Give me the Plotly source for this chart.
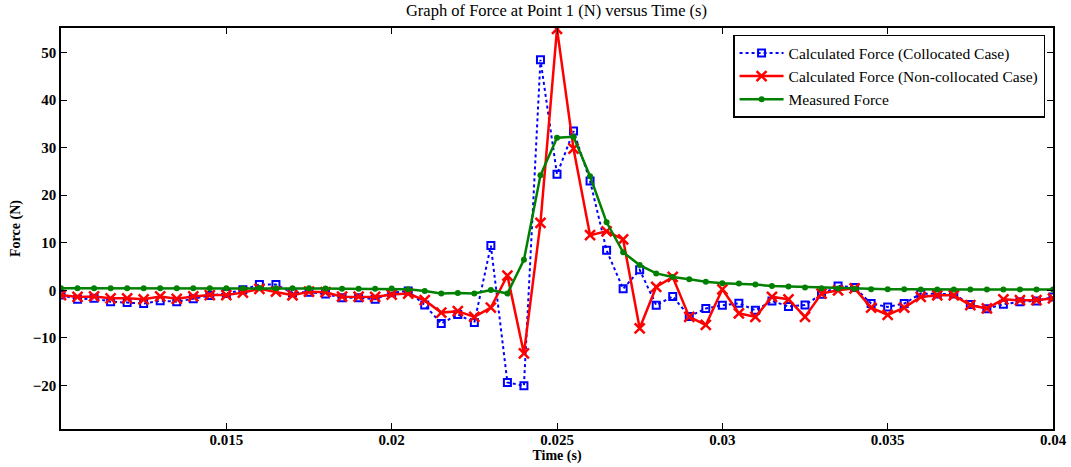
import plotly.graph_objects as go

time_s = [0.0100, 0.0105, 0.0110, 0.0115, 0.0120, 0.0125, 0.0130, 0.0135, 0.0140, 0.0145,
          0.0150, 0.0155, 0.0160, 0.0165, 0.0170, 0.0175, 0.0180, 0.0185, 0.0190, 0.0195,
          0.0200, 0.0205, 0.0210, 0.0215, 0.0220, 0.0225, 0.0230, 0.0235, 0.0240, 0.0245,
          0.0250, 0.0255, 0.0260, 0.0265, 0.0270, 0.0275, 0.0280, 0.0285, 0.0290, 0.0295,
          0.0300, 0.0305, 0.0310, 0.0315, 0.0320, 0.0325, 0.0330, 0.0335, 0.0340, 0.0345,
          0.0350, 0.0355, 0.0360, 0.0365, 0.0370, 0.0375, 0.0380, 0.0385, 0.0390, 0.0395,
          0.0400]

force_collocated = [-1.0, -1.9, -1.7, -2.4, -2.6, -2.8, -2.2, -2.4, -1.8, -1.1,
                    -0.7, 0.1, 1.2, 1.2, -0.5, -0.4, -0.8, -1.55, -1.55, -1.9,
                    -0.5, -0.15, -3.1, -7.0, -5.1, -6.8, 9.4, -19.4, -20.1, 48.5,
                    24.4, 33.5, 23.0, 8.4, 0.3, 4.3, -3.15, -1.3, -5.5, -3.85,
                    -3.15, -2.75, -4.2, -2.25, -3.4, -3.1, -0.85, 0.9, 0.6, -2.8,
                    -3.5, -2.8, -0.7, -0.8, -0.8, -3.0, -3.9, -2.95, -2.4, -2.25,
                    -1.4]

force_noncollocated = [-1.0, -1.4, -1.3, -1.7, -1.7, -1.9, -1.3, -1.8, -1.3, -1.0,
                       -1.0, -0.5, 0.3, -0.3, -1.05, -0.3, -0.4, -1.35, -1.35, -1.4,
                       -0.9, -0.7, -2.1, -4.7, -4.4, -5.6, -3.65, 3.1, -13.3, 14.2,
                       55.0, 29.8, 11.6, 12.4, 10.7, -8.0, 0.7, 2.8, -5.6, -7.3,
                       0.2, -4.85, -5.6, -1.4, -1.9, -5.6, -0.7, 0.0, 0.4, -3.65,
                       -5.2, -3.65, -1.4, -1.05, -1.05, -3.15, -3.8, -1.9, -2.1, -2.1,
                       -1.7]

force_measured = [0.4, 0.4, 0.4, 0.4, 0.4, 0.4, 0.4, 0.4, 0.4, 0.4,
                  0.4, 0.4, 0.5, 0.4, 0.4, 0.4, 0.35, 0.3, 0.3, 0.3,
                  0.35, 0.2, -0.15, -0.7, -0.6, -0.7, 0.05, -0.7, 6.4, 24.2,
                  32.1, 32.3, 24.0, 14.3, 8.0, 5.3, 3.55, 2.8, 2.3, 1.8,
                  1.5, 1.4, 1.2, 0.9, 0.8, 0.6, 0.45, 0.35, 0.3, 0.2,
                  0.2, 0.2, 0.15, 0.15, 0.15, 0.15, 0.15, 0.15, 0.15, 0.15,
                  0.15]

x_tick_vals = [0.015, 0.02, 0.025, 0.03, 0.035, 0.04]
x_tick_text = ["0.015", "0.02", "0.025", "0.03", "0.035", "0.04"]
y_tick_vals = [-20, -10, 0, 10, 20, 30, 40, 50]

FONT = "Liberation Serif, Times New Roman, serif"

fig = go.Figure()
fig.add_trace(go.Scatter(
    x=time_s, y=force_collocated, mode="lines+markers",
    name="Calculated Force (Collocated Case)",
    line=dict(color="#0000ff", width=2, dash="dot"),
    marker=dict(symbol="square-open", size=7, color="#0000ff", line=dict(width=2, color="#0000ff")),
))
fig.add_trace(go.Scatter(
    x=time_s, y=force_noncollocated, mode="lines+markers",
    name="Calculated Force (Non-collocated Case)",
    line=dict(color="#ff0000", width=2.5),
    marker=dict(symbol="x-thin-open", size=10, color="#ff0000", line=dict(width=2.5, color="#ff0000")),
))
fig.add_trace(go.Scatter(
    x=time_s, y=force_measured, mode="lines+markers",
    name="Measured Force",
    line=dict(color="#008000", width=2.5),
    marker=dict(symbol="circle", size=6, color="#008000"),
))

axis_common = dict(
    showline=True, linecolor="black", linewidth=1.5, mirror="ticks",
    ticks="inside", ticklen=6, tickcolor="black", tickwidth=1,
    showgrid=False, zeroline=False, automargin=False,
    tickfont=dict(family=FONT, size=15, color="black", weight="bold"),
)

fig.update_layout(
    width=1071, height=467,
    margin=dict(l=61, r=18, t=28, b=38, autoexpand=False),
    paper_bgcolor="white", plot_bgcolor="white",
    font=dict(family=FONT, color="black"),
    title=dict(text="Graph of Force at Point 1 (N) versus Time (s)",
               x=0.5196, xanchor="center", y=0.979, yanchor="middle",
               font=dict(family=FONT, size=16.5, color="black")),
    xaxis=dict(range=[0.010, 0.040], tickvals=x_tick_vals, ticktext=x_tick_text,
               ticklabelstandoff=-4,
               title=dict(text="Time (s)", standoff=2,
                          font=dict(family=FONT, size=14, color="black", weight="bold")),
               **axis_common),
    yaxis=dict(range=[-29.2, 55.2], tickvals=y_tick_vals,
               title=dict(text="Force (N)", standoff=9,
                          font=dict(family=FONT, size=14, color="black", weight="bold")),
               **axis_common),
    legend=dict(x=0.992, xanchor="right", y=0.983, yanchor="top",
                bgcolor="white", bordercolor="black", borderwidth=1.5,
                font=dict(family=FONT, size=15.5, color="black"),
                tracegroupgap=0, itemwidth=44),
    showlegend=True,
)

fig.write_html(
    "out.html",
    config={"displayModeBar": False},
    post_script="document.body.style.margin='0';document.body.style.padding='0';window.dispatchEvent(new Event('resize'));",
)
